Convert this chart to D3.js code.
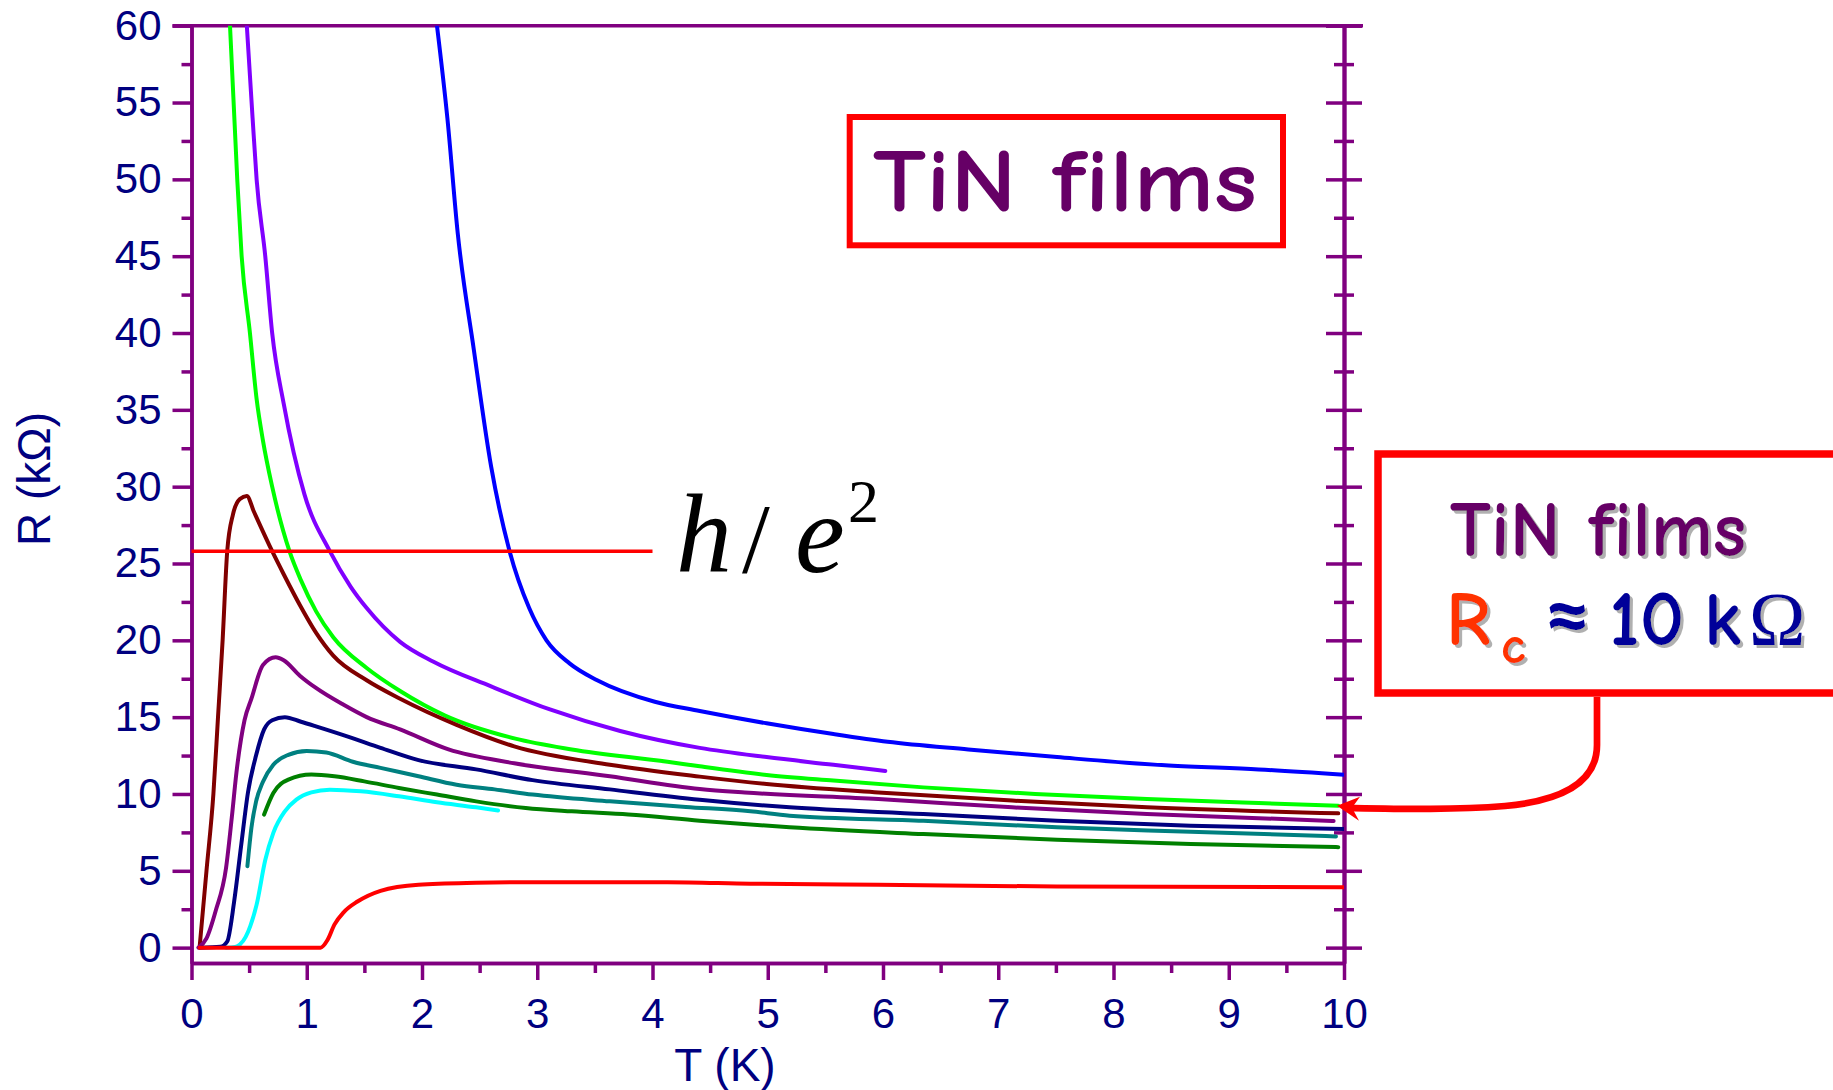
<!DOCTYPE html>
<html>
<head>
<meta charset="utf-8">
<script src="https://cdn.jsdelivr.net/npm/d3@7"></script>
<style>
  body { margin: 0; background: #fff; }
  svg { display: block; }
</style>
</head>
<body>
<div id="chart"></div>
<script>
// R(T) of the TiN films, [T in K, R in kOhm]
var blueFilm = [[2.13, 60], [2.22, 54], [2.31, 46.5], [2.45, 38.9], [2.6, 31.3], [2.76, 25.8], [2.93, 22.1],
  [3.08, 20.0], [3.28, 18.5], [3.52, 17.4], [4.02, 16.0], [4.41, 15.4], [4.99, 14.6], [5.57, 13.9],
  [6.04, 13.4], [6.74, 12.9], [7.51, 12.4], [8.48, 11.85], [9.26, 11.6], [10, 11.25]]
var violetFilm = [[0.48, 60], [0.53, 54], [0.565, 50], [0.64, 45], [0.7, 40], [0.8, 35.4], [0.98, 29.5],
  [1.2, 25.8], [1.38, 23.5], [1.52, 22.1], [1.81, 19.9], [2.1, 18.6], [2.6, 17.0], [3.11, 15.5],
  [3.72, 14.1], [4.41, 13.0], [4.99, 12.4], [5.57, 11.9], [6.02, 11.5]]
var greenFilm = [[0.334, 60], [0.397, 50], [0.435, 45], [0.507, 40], [0.565, 35.7], [0.62, 33], [0.7, 30],
  [0.85, 25.8], [0.95, 23.9], [1.08, 21.9], [1.23, 20.2], [1.52, 18.2], [1.81, 16.7], [2.2, 15.1],
  [2.81, 13.6], [3.3, 12.9], [4.13, 12.1], [4.41, 11.8], [4.99, 11.24], [5.57, 10.87], [6.35, 10.43],
  [7.32, 10.0], [8.29, 9.67], [9.26, 9.41], [9.95, 9.24]]
var maroonFilm = [[0.07, 0], [0.13, 5], [0.19, 10], [0.23, 15], [0.27, 20], [0.31, 25.8], [0.36, 28.2],
  [0.42, 29.2], [0.48, 29.4], [0.54, 28.4], [0.7, 25.8], [0.8, 24.3], [0.94, 22.3], [1.08, 20.5],
  [1.23, 19.0], [1.52, 17.4], [1.81, 16.2], [2.3, 14.5], [2.8, 13.1], [3.63, 11.9], [4.41, 11.13],
  [4.99, 10.65], [5.96, 10.1], [7.12, 9.57], [8.29, 9.13], [9.95, 8.74]]
var purpleFilm = [[0.06, 0], [0.13, 0.6], [0.21, 2.4], [0.3, 5.2], [0.35, 8.5], [0.39, 11.4], [0.46, 14.8],
  [0.52, 16.2], [0.62, 18.4], [0.73, 18.9], [0.8, 18.7], [0.94, 17.7], [1.08, 16.9], [1.32, 15.8],
  [1.52, 15.0], [1.81, 14.2], [2.23, 12.9], [2.8, 12.0], [3.63, 11.15], [4.41, 10.33], [4.8, 10.1],
  [5.96, 9.67], [7.12, 9.13], [8.29, 8.7], [9.91, 8.24]]
var navyFilm = [[0.08, 0], [0.25, 0.05], [0.31, 0.4], [0.37, 3.0], [0.43, 6.6], [0.49, 10.1], [0.56, 12.5],
  [0.63, 14.2], [0.7, 14.8], [0.81, 15.0], [0.95, 14.7], [1.08, 14.4], [1.37, 13.7], [1.64, 13.0],
  [1.97, 12.2], [2.47, 11.6], [2.96, 10.9], [3.63, 10.3], [4.41, 9.63], [5.19, 9.13], [6.35, 8.7],
  [7.51, 8.26], [8.67, 7.93], [10, 7.72]]
var tealFilm = [[0.485, 5.3], [0.52, 7.8], [0.56, 9.5], [0.62, 10.8], [0.71, 11.9], [0.84, 12.55], [1.0, 12.8],
  [1.17, 12.7], [1.4, 12.1], [1.64, 11.7], [1.97, 11.15], [2.3, 10.6], [2.63, 10.3], [2.96, 9.96],
  [3.63, 9.52], [4.29, 9.16], [4.85, 8.87], [5.19, 8.59], [6.35, 8.26], [7.51, 7.83], [8.67, 7.54], [9.93, 7.24]]
var darkGreenFilm = [[0.63, 8.66], [0.71, 10.06], [0.84, 10.93], [1.04, 11.26], [1.24, 11.15], [1.5, 10.82],
  [1.8, 10.39], [2.13, 9.96], [2.47, 9.52], [2.9, 9.09], [3.3, 8.87], [3.79, 8.66], [4.41, 8.26],
  [5.19, 7.83], [6.35, 7.39], [7.51, 7.02], [8.67, 6.74], [9.95, 6.54]]
var cyanFilm = [[0.3, 0], [0.38, 0.05], [0.42, 0.2], [0.47, 0.7], [0.51, 1.4], [0.565, 2.8], [0.64, 5.7],
  [0.71, 7.47], [0.81, 8.87], [0.91, 9.63], [1.04, 10.1], [1.2, 10.28], [1.47, 10.17], [1.8, 9.85],
  [2.13, 9.46], [2.47, 9.13], [2.66, 8.92]]
var redFilm = [[0.07, 0], [1.12, 0], [1.18, 0.5], [1.24, 1.5], [1.32, 2.3], [1.44, 3.0], [1.64, 3.7],
  [1.97, 4.1], [2.47, 4.22], [2.96, 4.26], [4.13, 4.26], [4.85, 4.16], [5.96, 4.09], [7.51, 3.98], [10, 3.93]]

var films = [blueFilm, violetFilm, greenFilm, maroonFilm, purpleFilm, navyFilm, tealFilm, darkGreenFilm, cyanFilm, redFilm]
var filmColors = ['#0000ff', '#8000ff', '#00ff00', '#800000', '#800080', '#000080', '#008080', '#008000', '#00ffff', '#ff0000']

var xTicks = [0, 1, 2, 3, 4, 5, 6, 7, 8, 9, 10]
var xMinorTicks = [0.5, 1.5, 2.5, 3.5, 4.5, 5.5, 6.5, 7.5, 8.5, 9.5]
var yTicks = [0, 5, 10, 15, 20, 25, 30, 35, 40, 45, 50, 55, 60]
var yMinorTicks = [2.5, 7.5, 12.5, 17.5, 22.5, 27.5, 32.5, 37.5, 42.5, 47.5, 52.5, 57.5]

var hOverE2 = 25.8   // quantum resistance, kOhm
var hLineEnd = 4     // T where the h/e^2 line stops
var arrowTarget = greenFilm[greenFilm.length - 1]

var AXIS = '#800080'
var LABEL = '#000080'
var COMIC = "'Comic Sans MS', 'Comic Neue', Lato, 'Noto Sans', sans-serif"
var serif = 'Liberation Serif, Times New Roman, serif'

var width = 1833
var height = 1090

var svg = d3.select('#chart')
  .append('svg')
  .attr('width', width)
  .attr('height', height)

var x = d3.scaleLinear().domain([0, 10]).range([191.5, 1344])
var y = d3.scaleLinear().domain([-1, 60]).range([963, 25.7])

function styleAxis(g, labels) {
  g.selectAll('path, line').attr('stroke', AXIS).attr('stroke-width', 3.5)
  g.selectAll('text')
    .attr('fill', LABEL)
    .attr('font-family', 'Liberation Sans, Arial, sans-serif')
    .attr('font-size', labels ? '42px' : '0px')
}

// bottom axis
svg.append('g')
  .attr('transform', 'translate(0,' + y(-1) + ')')
  .call(d3.axisBottom(x).tickValues(xTicks).tickSize(17).tickSizeOuter(0).tickPadding(18))
  .call(g => styleAxis(g, true))
svg.append('g')
  .attr('transform', 'translate(0,' + y(-1) + ')')
  .call(d3.axisBottom(x).tickValues(xMinorTicks).tickSize(10).tickSizeOuter(0).tickFormat(''))
  .call(g => styleAxis(g, false))

// left axis
svg.append('g')
  .attr('transform', 'translate(' + x(0) + ',0)')
  .call(d3.axisLeft(y).tickValues(yTicks).tickSize(19).tickSizeOuter(0).tickPadding(11))
  .call(g => styleAxis(g, true))
svg.append('g')
  .attr('transform', 'translate(' + x(0) + ',0)')
  .call(d3.axisLeft(y).tickValues(yMinorTicks).tickSize(10).tickSizeOuter(0).tickFormat(''))
  .call(g => styleAxis(g, false))

// right axis, ticks cross the line
;[[d3.axisLeft, 18, yTicks], [d3.axisRight, 18, yTicks], [d3.axisLeft, 10, yMinorTicks], [d3.axisRight, 10, yMinorTicks]]
  .forEach(function (a) {
    svg.append('g')
      .attr('transform', 'translate(' + x(10) + ',0)')
      .call(a[0](y).tickValues(a[2]).tickSize(a[1]).tickSizeOuter(0).tickFormat(''))
      .call(g => styleAxis(g, false))
  })

// top frame line
svg.append('line')
  .attr('x1', x(0) - 19).attr('x2', x(10) + 19)
  .attr('y1', y(60)).attr('y2', y(60))
  .attr('stroke', AXIS).attr('stroke-width', 3.5)

// axis titles
svg.append('text')
  .attr('x', 725).attr('y', 1081)
  .attr('text-anchor', 'middle')
  .attr('font-family', 'Liberation Sans, Arial, sans-serif')
  .attr('font-size', '46px')
  .attr('fill', LABEL)
  .text('T (K)')
svg.append('text')
  .attr('transform', 'translate(50,479) rotate(-90)')
  .attr('text-anchor', 'middle')
  .attr('font-family', 'Liberation Sans, Arial, sans-serif')
  .attr('font-size', '46px')
  .attr('fill', LABEL)
  .text('R (kΩ)')

// curves
svg.append('clipPath').attr('id', 'plot-clip')
  .append('rect')
  .attr('x', x(0)).attr('y', y(60))
  .attr('width', x(10) - x(0)).attr('height', y(-1) - y(60))

var line = d3.line()
  .x(d => x(d[0]))
  .y(d => y(d[1]))
  .curve(d3.curveMonotoneX)

svg.append('g')
  .attr('clip-path', 'url(#plot-clip)')
  .selectAll('path')
  .data(films)
  .enter()
  .append('path')
  .attr('d', line)
  .attr('fill', 'none')
  .attr('stroke', (d, i) => filmColors[i])
  .attr('stroke-width', 4)
  .attr('stroke-linecap', 'round')
  .attr('stroke-linejoin', 'round')

// h/e^2 line and label
svg.append('line')
  .attr('x1', x(0)).attr('x2', x(hLineEnd))
  .attr('y1', y(hOverE2)).attr('y2', y(hOverE2))
  .attr('stroke', '#ff0000').attr('stroke-width', 3.5)

svg.append('text').attr('x', 676).attr('y', 572)
  .attr('font-family', serif).attr('font-style', 'italic').attr('font-size', '112px')
  .text('h')
svg.append('text').attr('x', 742).attr('y', 572)
  .attr('font-family', serif).attr('font-size', '100px')
  .text('/')
svg.append('text').attr('x', 795).attr('y', 572)
  .attr('font-family', serif).attr('font-style', 'italic').attr('font-size', '112px')
  .text('e')
svg.append('text').attr('x', 848).attr('y', 522)
  .attr('font-family', serif).attr('font-size', '62px')
  .text('2')

// top label box
svg.append('rect')
  .attr('x', 849.7).attr('y', 117)
  .attr('width', 433.3).attr('height', 128.3)
  .attr('fill', '#fff')
  .attr('stroke', '#ff0000').attr('stroke-width', 6)
svg.append('text')
  .attr('x', 873).attr('y', 211)
  .attr('font-family', COMIC).attr('font-weight', 'bold')
  .attr('font-size', '88px')
  .attr('textLength', 384).attr('lengthAdjust', 'spacingAndGlyphs')
  .attr('fill', '#660066')
  .text('TiN films')

// callout box with arrow
svg.append('path')
  .attr('d', 'M1597,697 V745 C1597,778 1570,800 1505,806 C1455,810 1405,809 1352,808')
  .attr('fill', 'none')
  .attr('stroke', '#ff0000').attr('stroke-width', 6.7)

var tipX = x(10) - 7
var tipY = y(arrowTarget[1])
svg.append('path')
  .attr('d', 'M' + tipX + ',' + tipY +
    ' L' + (tipX + 23) + ',' + (tipY - 9) +
    ' L' + (tipX + 15) + ',' + (tipY + 2) +
    ' L' + (tipX + 22) + ',' + (tipY + 15) + ' Z')
  .attr('fill', '#ff0000')

svg.append('rect')
  .attr('x', 1378).attr('y', 454)
  .attr('width', 480).attr('height', 239)
  .attr('fill', '#fff')
  .attr('stroke', '#ff0000').attr('stroke-width', 7.5)

var shadow = svg.append('defs').append('filter')
  .attr('id', 'shadow')
  .attr('x', '-5%').attr('y', '-5%').attr('width', '115%').attr('height', '115%')
shadow.append('feDropShadow')
  .attr('dx', 3).attr('dy', 3).attr('stdDeviation', 0.6)
  .attr('flood-color', '#a8a8a8').attr('flood-opacity', 0.9)

// callout text: one text element, pieces as tspans
var callout = svg.append('text')
  .attr('font-family', COMIC).attr('font-weight', 'bold')
  .attr('filter', 'url(#shadow)')

var calloutParts = [
  ['TiN films', 1450, 556, 78, '#660066', COMIC],
  ['R', 1446, 645, 76, '#ff3300', COMIC],
  ['c', 1501, 663, 52, '#ff3300', COMIC],
  ['≈', 1543, 645, 84, '#000099', COMIC],
  ['10', 1609, 645, 78, '#000099', COMIC],
  ['k', 1704, 645, 76, '#000099', COMIC],
  ['Ω', 1749, 645, 76, '#000099', serif]
]
calloutParts.forEach(function (p) {
  callout.append('tspan')
    .attr('x', p[1]).attr('y', p[2])
    .attr('font-size', p[3] + 'px')
    .attr('fill', p[4])
    .attr('font-family', p[5])
    .attr('font-weight', p[5] === COMIC ? 'bold' : 'normal')
    .text(p[0])
})
</script>
</body>
</html>
